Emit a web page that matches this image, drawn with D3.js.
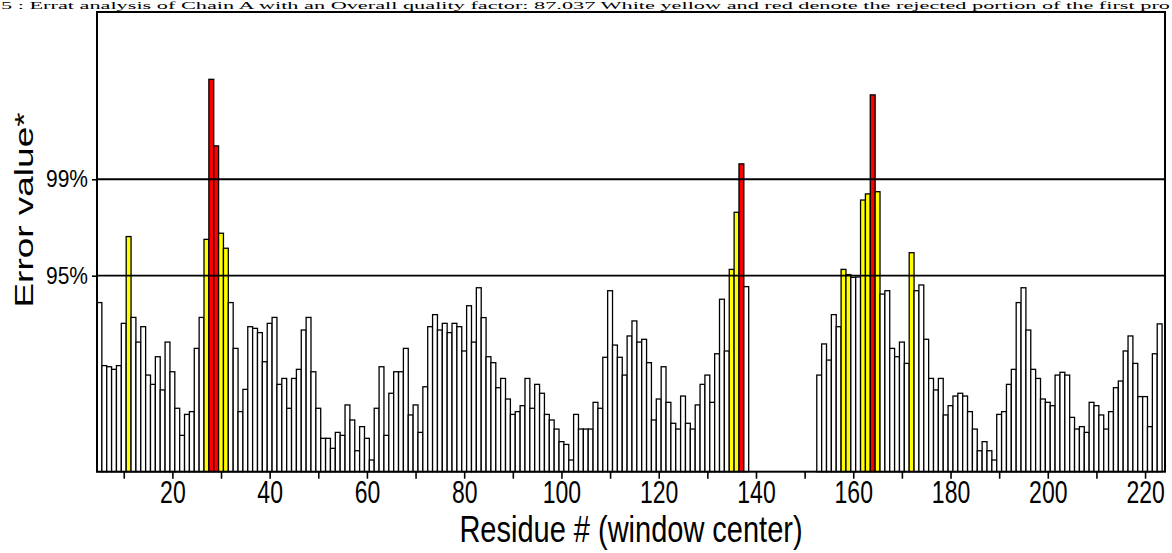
<!DOCTYPE html>
<html>
<head>
<meta charset="utf-8">
<script src="https://cdn.jsdelivr.net/npm/d3@7"></script>
<style>
  html, body { margin: 0; padding: 0; background: #fff; }
  svg { display: block; }
  text { font-family: Arial, "Liberation Sans", sans-serif; fill: #000; }
</style>
</head>
<body>
<div id="chart"></div>
<script>
// ERRAT error value per 9-residue window, first window center = residue 5
var firstResidue = 5;
var errorValues = [
  10.54, 7.14, 7.08, 6.94, 7.14, 9.42, 14.10, 9.74, 8.41, 9.24,    // 5-14
  6.63, 6.13, 7.62, 5.83, 8.41, 6.81, 4.84, 3.38, 4.51, 4.66,      // 15-24
  8.07, 9.74, 13.95, 22.58, 18.99, 14.28, 13.47, 10.54, 8.07, 4.66, // 25-34
  5.86, 9.24, 9.15, 8.92, 7.35, 9.42, 9.74, 6.13, 6.45, 4.84,      // 35-44
  6.45, 6.94, 9.06, 9.74, 6.81, 4.84, 3.22, 3.22, 2.68, 3.54,      // 45-54
  3.38, 5.02, 4.21, 2.55, 3.85, 3.22, 2.05, 4.84, 7.08, 3.38,      // 55-64
  5.65, 6.81, 6.81, 8.07, 4.48, 5.02, 3.54, 6.00, 9.24, 9.89,      // 65-74
  9.06, 9.42, 8.92, 9.42, 9.24, 7.93, 10.37, 8.41, 11.34, 9.73,    // 75-84
  7.62, 7.30, 5.95, 6.45, 5.34, 4.51, 4.66, 4.98, 6.45, 4.84,      // 85-94
  6.13, 5.65, 4.51, 4.21, 3.72, 3.04, 2.89, 2.05, 4.51, 3.72,      // 95-104
  3.72, 3.72, 5.16, 4.84, 7.59, 11.18, 8.25, 7.59, 6.63, 8.74,     // 105-114
  9.55, 8.41, 8.56, 7.30, 4.21, 5.34, 7.08, 5.16, 4.03, 3.72,      // 115-124
  5.50, 4.03, 3.72, 5.02, 6.13, 6.63, 5.16, 7.78, 10.72, 7.93,     // 125-134
  12.33, 15.41, 18.02, 11.40,                                      // 135-138
  null, null, null, null, null, null, null,                        // 139-145
  null, null, null, null, null, null, null,                        // 146-152
  6.63, 8.31, 7.44, 9.89, 9.24, 12.33, 12.05, 11.90, 11.92, 16.07, // 153-162
  16.40, 21.74, 16.52, 11.00, 11.18, 8.07, 7.62, 8.41, 7.26, 13.23, // 163-172
  11.18, 11.49, 8.56, 6.45, 5.83, 6.45, 4.48, 4.98, 5.50, 5.65,    // 173-182
  5.50, 4.66, 3.72, 2.55, 3.04, 2.55, 2.05, 4.51, 4.66, 6.13,      // 183-192
  6.94, 10.54, 11.34, 9.06, 6.94, 6.45, 5.34, 5.16, 4.98, 6.63,    // 193-202
  6.78, 6.63, 4.35, 3.72, 3.85, 3.54, 5.16, 4.98, 4.48, 3.72,      // 203-212
  4.66, 5.95, 6.31, 7.93, 8.74, 7.26, 5.47, 5.47, 3.85, 7.78,      // 213-222
  9.39                                                             // 223
];
var thresholdValues = [11.99, 17.19];
var thresholdLabels = ['95%', '99%'];
var xTickValues = d3.range(10, 221, 10);
var title = '5 : Errat analysis of Chain A with an Overall quality factor: 87.037 White yellow and red denote the rejected portion of the first pro';

var width = 1172;
var height = 553;
var plot = { left: 97, right: 1165, top: 12, bottom: 471.7 };

var data = errorValues.map(function (v, i) { return { residue: firstResidue + i, value: v }; })
    .filter(function (d) { return d.value !== null; });

var svg = d3.select('#chart').append('svg')
    .attr('width', width)
    .attr('height', height);

var x = d3.scaleLinear().domain([4.5, 224.1]).range([plot.left, plot.right]);
var y = d3.scaleLinear().domain([1.42, 26.21]).range([plot.bottom, plot.top]);

function barColor(v) {
    if (v > thresholdValues[1]) return '#ff0000';
    if (v > thresholdValues[0]) return '#ffff00';
    return '#ffffff';
}

// title line squeezed above the frame
svg.append('text')
    .attr('x', 1)
    .attr('y', 8.5)
    .attr('textLength', 1169)
    .attr('lengthAdjust', 'spacingAndGlyphs')
    .style('font-family', '"Liberation Serif", "Times New Roman", serif')
    .style('font-size', '11px')
    .text(title);

// bars
svg.append('g').selectAll('rect')
    .data(data)
    .enter()
    .append('rect')
    .attr('x', function (d) { return x(d.residue - 0.5); })
    .attr('width', function (d) { return x(d.residue + 0.5) - x(d.residue - 0.5); })
    .attr('y', function (d) { return y(d.value); })
    .attr('height', function (d) { return plot.bottom - y(d.value); })
    .attr('fill', function (d) { return barColor(d.value); })
    .attr('stroke', '#000')
    .attr('stroke-width', 1.3);

// threshold lines
svg.append('g').selectAll('line')
    .data(thresholdValues)
    .enter()
    .append('line')
    .attr('x1', plot.left)
    .attr('x2', plot.right)
    .attr('y1', function (d) { return y(d); })
    .attr('y2', function (d) { return y(d); })
    .attr('stroke', '#000')
    .attr('stroke-width', 1.8);

// frame
svg.append('rect')
    .attr('x', plot.left)
    .attr('y', plot.top)
    .attr('width', plot.right - plot.left)
    .attr('height', plot.bottom - plot.top)
    .attr('fill', 'none')
    .attr('stroke', '#000')
    .attr('stroke-width', 2);

// x axis
var xAxis = svg.append('g')
    .attr('transform', 'translate(0,' + plot.bottom + ')')
    .call(d3.axisBottom(x)
        .tickValues(xTickValues)
        .tickSize(7)
        .tickSizeOuter(0)
        .tickFormat(function (d) { return d % 20 === 0 ? d : ''; }));
xAxis.select('.domain').remove();
xAxis.selectAll('.tick line').attr('stroke', '#000').attr('stroke-width', 1.6);
xAxis.selectAll('.tick text')
    .attr('y', 0)
    .attr('dy', null)
    .attr('transform', 'translate(0,31.6) scale(1,1.38)')
    .style('font-size', '23px');

// y axis
var yAxis = svg.append('g')
    .attr('transform', 'translate(' + plot.left + ',0)')
    .call(d3.axisLeft(y)
        .tickValues(thresholdValues)
        .tickSize(5)
        .tickSizeOuter(0)
        .tickFormat(function (d, i) { return thresholdLabels[i]; }));
yAxis.select('.domain').remove();
yAxis.selectAll('.tick line').attr('stroke', '#000').attr('stroke-width', 1.6);
yAxis.selectAll('.tick text')
    .attr('x', 0)
    .attr('dy', null)
    .attr('transform', 'translate(-9,7.5) scale(1,1.12)')
    .style('font-size', '21px');

// axis titles
svg.append('text')
    .attr('transform', 'translate(631,541.5) scale(1,1.25)')
    .attr('text-anchor', 'middle')
    .style('font-size', '29px')
    .text('Residue # (window center)');

svg.append('text')
    .attr('transform', 'translate(33,210) rotate(-90) scale(1.45,1)')
    .attr('text-anchor', 'middle')
    .style('font-size', '25.5px')
    .text('Error value*');
</script>
</body>
</html>
